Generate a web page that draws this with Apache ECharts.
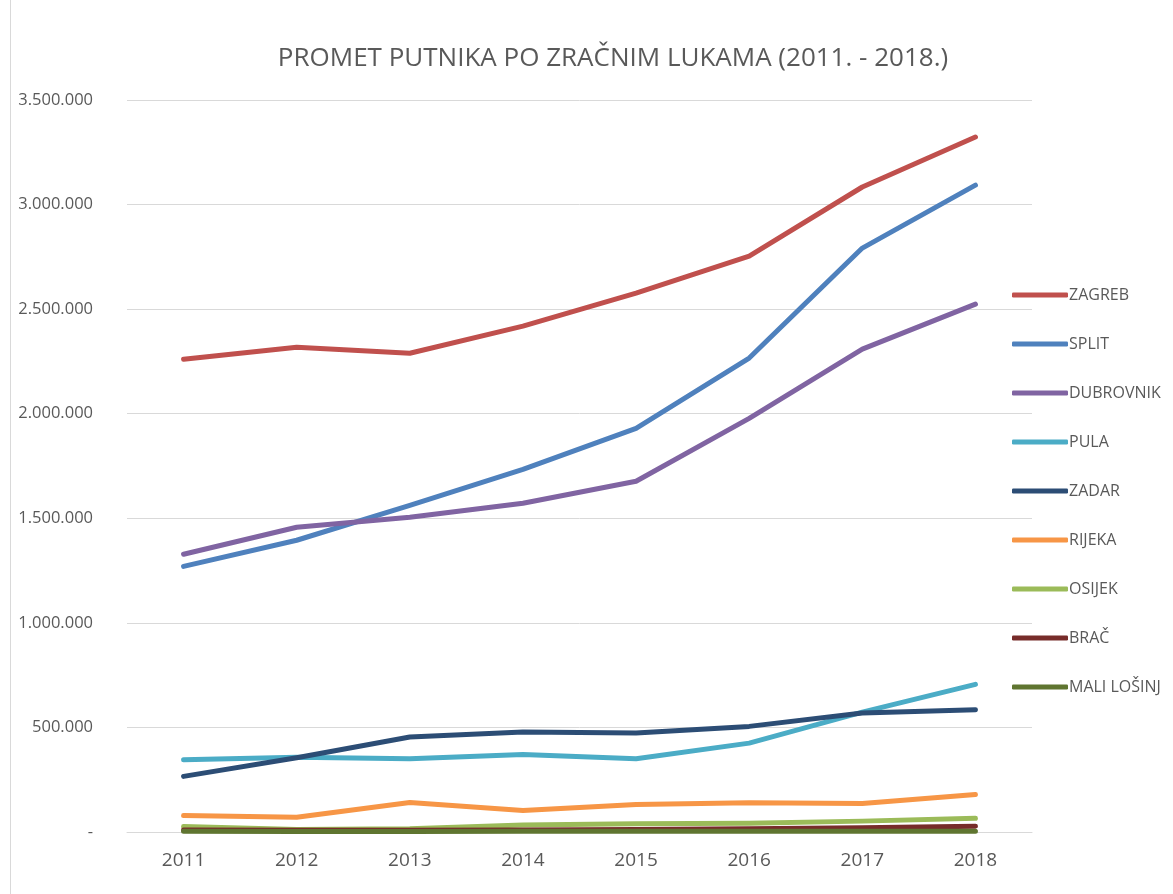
<!DOCTYPE html>
<html>
<head>
<meta charset="utf-8">
<script src="https://cdn.jsdelivr.net/npm/echarts@6/dist/echarts.min.js"></script>
<style>
  html, body { margin: 0; padding: 0; background: #fff; }
  #chart { width: 1173px; height: 894px; }
</style>
</head>
<body>
<div id="chart"></div>
<script>
var years = ['2011', '2012', '2013', '2014', '2015', '2016', '2017', '2018']

var zagreb = [2260000, 2318000, 2289000, 2419000, 2577000, 2754000, 3084000, 3323000]
var split = [1270000, 1395000, 1562000, 1734000, 1930000, 2266000, 2792000, 3093000]
var dubrovnik = [1328000, 1457000, 1505000, 1572000, 1677000, 1978000, 2309000, 2524000]
var pula = [345000, 358000, 350000, 371000, 350000, 425000, 573000, 706000]
var zadar = [266000, 355000, 454000, 478000, 473000, 505000, 569000, 585000]
var rijeka = [79000, 71000, 141000, 103000, 132000, 140000, 136000, 179000]
var osijek = [26000, 12000, 15000, 34000, 39000, 42000, 52000, 66000]
var brac = [9000, 8000, 8000, 10000, 12000, 15000, 20000, 28000]
var maliLosinj = [3000, 2000, 2000, 3000, 3000, 3000, 4000, 4000]

var seriesNames = ['ZAGREB', 'SPLIT', 'DUBROVNIK', 'PULA', 'ZADAR', 'RIJEKA', 'OSIJEK', 'BRAČ', 'MALI LOŠINJ']
var seriesData = [zagreb, split, dubrovnik, pula, zadar, rijeka, osijek, brac, maliLosinj]
var colors = ['#c0504d', '#4f81bd', '#8064a2', '#4bacc6', '#2c4d75', '#f79646', '#9bbb59', '#772c2a', '#5f7530']

var dom = document.getElementById('chart')
var myChart = echarts.init(dom)

function fmt(v) {
  if (v === 0) return '-'
  return String(v).replace(/\B(?=(\d{3})+(?!\d))/g, '.')
}

// later series on top, like the original
var series = seriesNames.map(function (name, i) {
  return {
    name: name,
    type: 'line',
    data: seriesData[i],
    symbol: 'none',
    z: 2 + i,
    lineStyle: { width: 5, color: colors[i], cap: 'round', join: 'round' },
    itemStyle: { color: colors[i] }
  }
})

var option = {
  animation: false,
  color: colors,
  title: {
    text: 'PROMET PUTNIKA PO ZRAČNIM LUKAMA (2011. - 2018.)',
    left: 608,
    top: 41,
    textAlign: 'center',
    textStyle: {
      fontFamily: 'Open Sans',
      fontWeight: 'normal',
      fontSize: 26,
      color: '#595959'
    }
  },
  legend: {
    orient: 'vertical',
    left: 1007,
    top: 282,
    icon: 'roundRect',
    itemWidth: 56,
    itemHeight: 5,
    itemGap: 33,
    textStyle: {
      fontFamily: 'Open Sans',
      fontSize: 16,
      color: '#595959',
      padding: [0, 0, 0, -4]
    },
    data: seriesNames
  },
  graphic: [
    {
      type: 'line',
      shape: { x1: 10.5, y1: 0, x2: 10.5, y2: 894 },
      style: { stroke: '#d9d9d9', lineWidth: 1 }
    }
  ],
  grid: {
    left: 127,
    right: 141,
    top: 100,
    bottom: 62
  },
  xAxis: {
    type: 'category',
    data: years,
    boundaryGap: true,
    axisLine: { lineStyle: { color: '#d9d9d9' } },
    axisTick: { show: false },
    axisLabel: {
      fontFamily: 'Open Sans',
      fontSize: 19,
      color: '#595959',
      margin: 19
    }
  },
  yAxis: {
    type: 'value',
    min: 0,
    max: 3500000,
    interval: 500000,
    axisLine: { show: false },
    axisTick: { show: false },
    splitLine: { lineStyle: { color: '#d9d9d9', width: 1 } },
    axisLabel: {
      fontFamily: 'Open Sans',
      fontSize: 16.5,
      color: '#595959',
      margin: 34,
      formatter: fmt
    }
  },
  series: series
}

if (option && typeof option === 'object') {
  myChart.setOption(option, true)
}
</script>
</body>
</html>
